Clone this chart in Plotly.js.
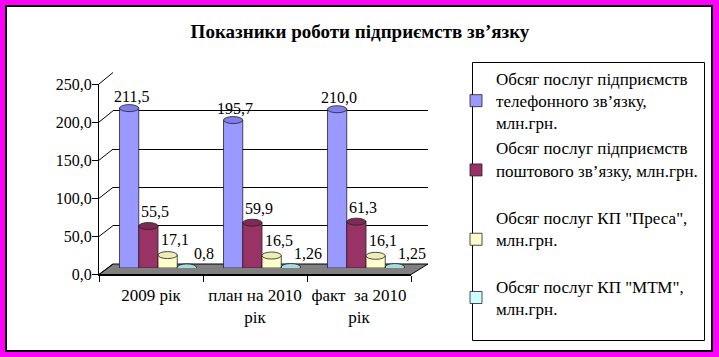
<!DOCTYPE html>
<html>
<head>
<meta charset="utf-8">
<script src="https://cdn.plot.ly/plotly-3.0.1.min.js"></script>
<style>
html,body{margin:0;padding:0;background:#FF00FF;}
#chart{width:719px;height:357px;}
</style>
</head>
<body>
<div id="chart"></div>
<script>
// ---- data ----
const categories = ["2009 рік", "план на 2010<br>рік", "факт\u00A0 за 2010<br>рік"];
const seriesNames = [
  "Обсяг послуг підприємств<br>телефонного зв’язку,<br>млн.грн.",
  "Обсяг послуг підприємств<br>поштового зв’язку, млн.грн.<br> ",
  "Обсяг послуг КП \"Преса\",<br>млн.грн.<br> ",
  "Обсяг послуг КП \"МТМ\",<br>млн.грн."
];
const phoneValues = [211.5, 195.7, 210.0];
const postValues = [55.5, 59.9, 61.3];
const pressValues = [17.1, 16.5, 16.1];
const mtmValues = [0.8, 1.26, 1.25];
const yTickValues = [0, 50, 100, 150, 200, 250];

// ---- styles ----
const seriesValues = [phoneValues, postValues, pressValues, mtmValues];
const colors = ["#9999FF", "#993366", "#FFFFCC", "#CCFFFF"];
const topColors = ["#8080E8", "#7F2A55", "#EDEDB8", "#A8DCDC"];
const labelXShift = [2, 7, 7, 17];
const labelYShift = [1, 4, 5, 3];
const FONT = "Liberation Serif, Times New Roman, serif";

// pixel geometry of the plot rectangle
const W = 719, H = 357;
const L = 99, R = 428, T = 72, B = 275;
const PW = R - L, PH = B - T;
const fx = px => (px - L) / PW;
const fy = py => (B - py) / PH;

// back (grid), middle (bars), front (axis) planes
const back = {x0: 113, x1: 428, y0: 264, y1: 72.5};
const mid = {x0: 106, x1: 418, y0: 268, y1: 79};
const front = {x0: 99, x1: 411, y0: 274.5, y1: 84};
const YMAX = 250;
const bargap = 0.26;
const catRange = [-0.5, categories.length - 0.5];

const fmt = v => (Math.abs(v * 10 - Math.round(v * 10)) < 1e-9 ? v.toFixed(1) : String(v)).replace('.', ',');

const traces = [];
// back grid carrier (subplot xy, drawn first)
traces.push({type: 'scatter', x: categories, y: categories.map(() => 0), xaxis: 'x', yaxis: 'y',
  mode: 'markers', marker: {opacity: 0}, showlegend: false, hoverinfo: 'skip'});

seriesValues.forEach((vals, i) => {
  traces.push({
    type: 'bar', name: seriesNames[i], x: categories, y: vals,
    xaxis: 'x2', yaxis: 'y2',
    marker: {color: colors[i], line: {color: '#222', width: 0.8}},
    hoverinfo: 'skip'
  });
});

// front axis carrier
traces.push({type: 'scatter', x: categories, y: categories.map(() => 0), xaxis: 'x3', yaxis: 'y3',
  mode: 'markers', marker: {opacity: 0}, showlegend: false, hoverinfo: 'skip'});

const shapes = [];
// outer frame
shapes.push({type: 'rect', xref: 'paper', yref: 'paper', layer: 'below',
  x0: fx(6), x1: fx(712), y0: fy(6), y1: fy(351),
  fillcolor: '#FFFFFF', line: {color: '#000', width: 2}});
// legend box
shapes.push({type: 'rect', xref: 'paper', yref: 'paper', layer: 'below',
  x0: fx(472.5), x1: fx(704.5), y0: fy(62.5), y1: fy(340.5),
  fillcolor: 'rgba(0,0,0,0)', line: {color: '#000', width: 1}});
// floor
shapes.push({type: 'path', xref: 'paper', yref: 'paper', layer: 'below',
  path: `M ${fx(front.x0)} ${fy(front.y0)} L ${fx(back.x0)} ${fy(back.y0)} L ${fx(back.x1)} ${fy(back.y0)} L ${fx(front.x1)} ${fy(front.y0)} Z`,
  fillcolor: '#808080', line: {color: '#000', width: 1}});
// side wall diagonals at each tick
yTickValues.forEach(v => {
  const yf = front.y0 - (front.y0 - front.y1) * v / YMAX;
  const yb = back.y0 - (back.y0 - back.y1) * v / YMAX;
  shapes.push({type: 'line', xref: 'paper', yref: 'paper', layer: 'below',
    x0: fx(front.x0), y0: fy(yf), x1: fx(back.x0), y1: fy(yb),
    line: {color: '#000', width: 1}});
});

// cylinder tops + labels
const groupW = 1 - bargap;
const barW = groupW / seriesValues.length;
const annotations = [];
seriesValues.forEach((vals, i) => {
  vals.forEach((v, j) => {
    const x0 = j - groupW / 2 + barW * i;
    shapes.push({type: 'circle', xref: 'x2', yref: 'y2', layer: 'above',
      x0: x0, x1: x0 + barW, ysizemode: 'pixel', yanchor: v, y0: -3.5, y1: 3.5,
      fillcolor: topColors[i], line: {color: '#222', width: 0.8}});
    annotations.push({xref: 'x2', yref: 'y2', x: x0 + barW / 2, y: v,
      text: fmt(v), showarrow: false, yanchor: 'bottom', xanchor: 'center',
      xshift: labelXShift[i], yshift: labelYShift[i],
      font: {family: FONT, size: 16, color: '#000'}});
  });
});

const layout = {
  width: W, height: H,
  margin: {l: L, r: W - R, t: T, b: H - B, pad: 0},
  paper_bgcolor: '#FF00FF',
  plot_bgcolor: 'rgba(0,0,0,0)',
  separators: ', ',
  showlegend: true,
  barmode: 'group', bargap: bargap, bargroupgap: 0,
  title: {text: 'Показники роботи підприємств зв’язку',
    font: {family: FONT, size: 19, color: '#000', weight: 700},
    x: 360 / W, xref: 'container', xanchor: 'center',
    y: 1 - 31 / H, yref: 'container', yanchor: 'middle'},
  // back wall: gridlines only
  xaxis: {domain: [fx(back.x0), fx(back.x1)], anchor: 'y', type: 'category',
    range: catRange, visible: false, fixedrange: true},
  yaxis: {domain: [fy(back.y0), fy(back.y1)], anchor: 'x', range: [0, YMAX],
    tickvals: yTickValues, showticklabels: false, ticks: '', showline: false,
    showgrid: true, gridcolor: '#000', gridwidth: 1, zeroline: false, fixedrange: true},
  // bars plane
  xaxis2: {domain: [fx(mid.x0), fx(mid.x1)], anchor: 'y2', type: 'category',
    range: catRange, visible: false, fixedrange: true},
  yaxis2: {domain: [fy(mid.y0), fy(mid.y1)], anchor: 'x2', range: [0, YMAX],
    visible: false, fixedrange: true},
  // front axes with labels
  xaxis3: {domain: [fx(front.x0), fx(front.x1)], anchor: 'y3', type: 'category', range: catRange,
    showline: true, linecolor: '#000', linewidth: 1,
    ticks: 'outside', tickson: 'boundaries', ticklen: 6, tickcolor: '#000',
    ticklabelstandoff: 5, tickangle: 0,
    showgrid: false, zeroline: false, fixedrange: true,
    tickfont: {family: FONT, size: 17, color: '#000'}},
  yaxis3: {domain: [fy(front.y0), fy(front.y1)], anchor: 'x3', range: [0, YMAX],
    tickvals: yTickValues, tickformat: '.1f',
    showline: true, linecolor: '#000', linewidth: 1,
    ticks: 'outside', ticklen: 6, tickcolor: '#000',
    ticklabelstandoff: -3,
    showgrid: false, zeroline: false, fixedrange: true,
    tickfont: {family: FONT, size: 16, color: '#000'}},
  legend: {x: fx(456), xanchor: 'left', y: fy(61), yanchor: 'top',
    bgcolor: 'rgba(0,0,0,0)', borderwidth: 0, traceorder: 'normal', maxheight: 330,
    font: {family: FONT, size: 17, color: '#000'}, tracegroupgap: 0},
  shapes: shapes,
  annotations: annotations
};

Plotly.newPlot('chart', traces, layout, {displayModeBar: false, staticPlot: true});
</script>
</body>
</html>
